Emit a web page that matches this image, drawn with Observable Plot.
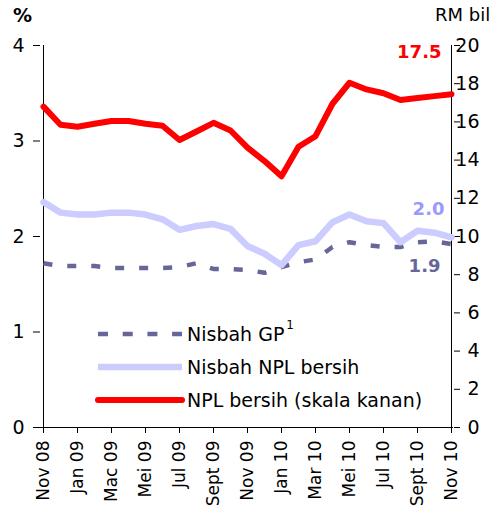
<!DOCTYPE html>
<html><head><meta charset="utf-8">
<script src="https://cdn.jsdelivr.net/npm/d3@7"></script>
<script src="https://cdn.jsdelivr.net/npm/@observablehq/plot@0.6"></script>
<style>body{margin:0;background:#fff}#chart{width:497px;height:509px}</style>
</head><body><div id="chart"></div>
<script>
const months = ["Nov 08","Dis 08","Jan 09","Feb 09","Mac 09","Apr 09","Mei 09","Jun 09","Jul 09","Ogo 09","Sept 09","Okt 09","Nov 09","Dis 09","Jan 10","Feb 10","Mar 10","Apr 10","Mei 10","Jun 10","Jul 10","Ogo 10","Sept 10","Okt 10","Nov 10"];
const xTicks = ["Nov 08","Jan 09","Mac 09","Mei 09","Jul 09","Sept 09","Nov 09","Jan 10","Mar 10","Mei 10","Jul 10","Sept 10","Nov 10"];
// NPL bersih, RM bil (right scale)
const nplRM = [16.8,15.85,15.75,15.9,16.05,16.05,15.9,15.8,15.05,15.5,15.95,15.55,14.65,13.95,13.15,14.7,15.25,16.95,18.05,17.7,17.5,17.15,17.25,17.35,17.45];
// Nisbah NPL bersih, %
const nplRatio = [2.36,2.25,2.23,2.23,2.25,2.25,2.23,2.18,2.07,2.11,2.13,2.08,1.90,1.82,1.70,1.91,1.95,2.15,2.23,2.16,2.14,1.94,2.06,2.04,1.99];
// Nisbah GP, %
const gpRatio = [1.72,1.69,1.69,1.69,1.67,1.67,1.67,1.67,1.68,1.72,1.66,1.66,1.65,1.62,1.68,1.73,1.76,1.89,1.94,1.91,1.89,1.89,1.94,1.95,1.92];
const leftTicks = [0,1,2,3,4];
const rightTicks = [0,2,4,6,8,10,12,14,16,18,20];
const rmLabel = "17.5", nplLabel = "2.0", gpLabel = "1.9";
const legendNames = ["Nisbah GP", "Nisbah NPL bersih", "NPL bersih (skala kanan)"];

const k = 5; // right axis units per left axis unit
const rows = months.map((m, i) => ({m, gp: gpRatio[i], npl: nplRatio[i], rm: nplRM[i] / k}));
const last = [rows[rows.length - 1]];

const plot = Plot.plot({
  width: 497, height: 509,
  marginLeft: 40, marginRight: 44, marginTop: 45, marginBottom: 82,
  style: {fontFamily: "DejaVu Sans", background: "#fff", color: "#000", overflow: "visible"},
  x: {type: "point", domain: months, padding: 0},
  y: {domain: [0, 4]},
  marks: [
    Plot.axisY({anchor: "left", ticks: leftTicks, tickFormat: d => String(d), tickSize: 7, tickPadding: 9, fontSize: 19, label: null}),
    Plot.axisY({anchor: "right", ticks: rightTicks.map(d => d / k), tickFormat: d => String(Math.round(d * k)), tickSize: 6, tickPadding: 20, textAnchor: "end", fontSize: 19, label: null}),
    Plot.axisX({ticks: xTicks, tickRotate: -90, tickSize: 6, tickPadding: 7, fontSize: 17, label: null}),
    Plot.ruleY([0], {stroke: "#000"}),
    Plot.ruleX([months[0], months[months.length - 1]], {stroke: "#000"}),
    Plot.line(rows, {x: "m", y: "gp", stroke: "#666699", strokeWidth: 4.5, strokeDasharray: "9,15", strokeLinecap: "butt"}),
    Plot.line(rows, {x: "m", y: "npl", stroke: "#ccccff", strokeWidth: 6.5, strokeLinejoin: "round"}),
    Plot.line(rows, {x: "m", y: "rm", stroke: "#ff0000", strokeWidth: 6, strokeLinejoin: "round"}),
    Plot.text(last, {x: "m", y: "rm", text: () => rmLabel, dx: -10, dy: -42, textAnchor: "end", fill: "#ff0000", fontWeight: "bold", fontSize: 18}),
    Plot.text(last, {x: "m", y: "npl", text: () => nplLabel, dx: -7, dy: -28, textAnchor: "end", fill: "#9999ff", fontWeight: "bold", fontSize: 18}),
    Plot.text(last, {x: "m", y: "gp", text: () => gpLabel, dx: -11, dy: 22, textAnchor: "end", fill: "#666699", fontWeight: "bold", fontSize: 18})
  ]
});
document.getElementById("chart").appendChild(plot);

const svg = d3.select(plot);
svg.append("text").attr("x", 13).attr("y", 22).attr("text-anchor", "start").attr("font-size", 19).attr("font-weight", "bold").attr("fill", "#000").text("%");
svg.append("text").attr("x", 435).attr("y", 21).attr("text-anchor", "start").attr("font-size", 18).attr("fill", "#000").text("RM bil");

const lg = svg.append("g").attr("font-size", 19).attr("fill", "#000").attr("text-anchor", "start");
const legendY = [334, 367, 400];
const legendStyles = [
  {stroke: "#666699", w: 4.5, dash: "10,14.7", cap: "butt"},
  {stroke: "#ccccff", w: 6.5, dash: null, cap: "butt"},
  {stroke: "#ff0000", w: 6, dash: null, cap: "round"}
];
legendNames.forEach((name, i) => {
  const s = legendStyles[i];
  const ln = lg.append("line").attr("x1", 98).attr("x2", 182).attr("y1", legendY[i]).attr("y2", legendY[i])
    .attr("stroke", s.stroke).attr("stroke-width", s.w).attr("stroke-linecap", s.cap);
  if (s.dash) ln.attr("stroke-dasharray", s.dash);
  const t = lg.append("text").attr("x", 187).attr("y", legendY[i]).attr("dy", "0.36em").text(name);
  if (i === 0) t.append("tspan").attr("font-size", 12).attr("dy", "-0.95em").attr("dx", 2).text("1");
});
</script>
</body></html>
